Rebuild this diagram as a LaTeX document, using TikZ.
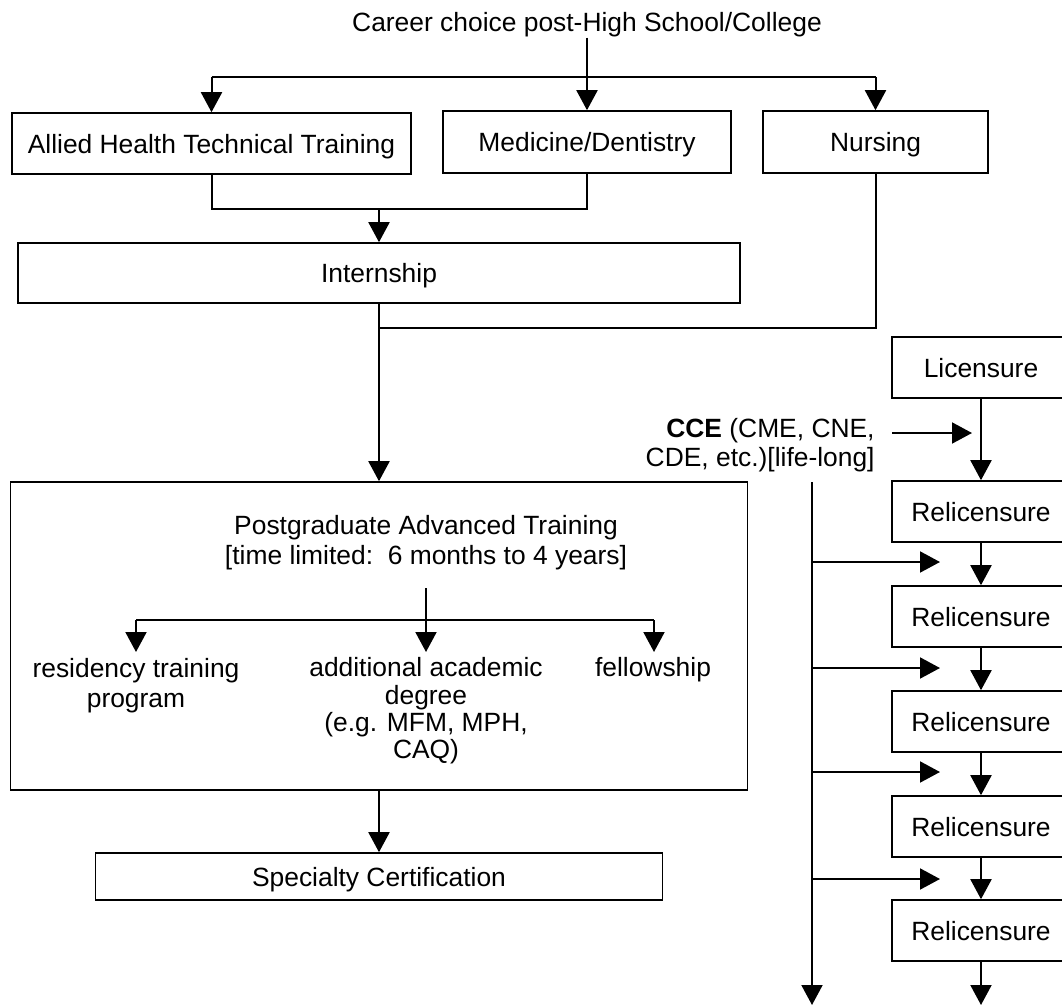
\documentclass[tikz,border=0pt]{standalone}
\usepackage{fontspec}
\setmainfont{Liberation Sans}
\usetikzlibrary{arrows.meta}
\newcommand\dtxt{\fontsize{13.2}{14.5}\selectfont}
\begin{document}
\begin{tikzpicture}[x=0.5pt,y=-0.5pt,
  box/.style={draw, line width=0.8pt, inner sep=0pt, align=center, font=\dtxt, text height=9.5pt, text depth=0pt},
  lbl/.style={inner sep=0pt, align=center, font=\dtxt},
  conn/.style={line width=1pt},
  arr/.style={conn, -{Triangle[length=10pt,width=10.5pt]}}]
\useasboundingbox (0,0) rectangle (1062,1007);
\clip (0,0) rectangle (1062,1007);

% top part
\node[lbl] (title) at (587,25) {Career choice post-High School/College};
\node[box, minimum width=199.5pt, minimum height=30.5pt] (allied) at (211.5,143.5) {Allied Health Technical Training};
\node[box, minimum width=144pt, minimum height=31pt] (medicine) at (587,142) {Medicine/Dentistry};
\node[box, minimum width=112.5pt, minimum height=31pt] (nursing) at (875.5,142) {Nursing};
\node[box, minimum width=361pt, minimum height=30pt] (internship) at (379,273) {Internship};
\node[box, minimum width=368.5pt, minimum height=154pt] (postgrad) at (379,636) {};
\node[box, minimum width=283.5pt, minimum height=23.5pt] (specialty) at (379,876.5) {Specialty Certification};

% postgrad contents
\node[lbl, font=\fontsize{13.2}{15}\selectfont] (pgt) at (426,543) {Postgraduate Advanced Training\\{[}time limited:\ \ 6 months to 4 years{]}};
\node[lbl, font=\fontsize{13.2}{15}\selectfont] (res) at (136,686) {residency training\\program};
\node[lbl, font=\fontsize{13.2}{13.7}\selectfont] (add) at (426,711) {additional academic\\degree\\(e.g. MFM, MPH,\\CAQ)};
\node[lbl] (fel) at (653,670) {fellowship};

% connectors top
\coordinate (split) at (587,77);
\draw[arr] (title.south) -- (medicine.north);
\draw[conn] (allied.north |- split) -- (nursing.north |- split);
\draw[arr] (allied.north |- split) -- (allied.north);
\draw[arr] (nursing.north |- split) -- (nursing.north);

\coordinate (merge) at (379,209);
\draw[conn] (allied.south) -- (allied.south |- merge) -- (medicine.south |- merge) -- (medicine.south);
\draw[arr] (merge) -- (internship.north);

\coordinate (join) at (379,328);
\draw[conn] (nursing.south) |- (join);
\draw[arr] (internship.south) -- (postgrad.north);

% inside postgrad
\coordinate (ps) at (426,588);
\coordinate (pj) at (426,620);
\coordinate (pl) at (136,620);
\coordinate (pr) at (654,620);
\coordinate (t1) at (136,652);
\coordinate (t2) at (426,652);
\coordinate (t3) at (654,652);
\draw[conn] (ps) -- (pj);
\draw[conn] (pl) -- (pr);
\draw[arr] (pl) -- (t1);
\draw[arr] (pj) -- (t2);
\draw[arr] (pr) -- (t3);

\draw[arr] (postgrad.south) -- (specialty.north);

% right column
\node[box, minimum width=89pt, minimum height=30.5pt] (lic) at (981,367.5) {Licensure};
\node[box, minimum width=89pt, minimum height=30.5pt] (r1) at (981,511.5) {Relicensure};
\node[box, minimum width=89pt, minimum height=30.5pt] (r2) at (981,616.5) {Relicensure};
\node[box, minimum width=89pt, minimum height=30.5pt] (r3) at (981,721.5) {Relicensure};
\node[box, minimum width=89pt, minimum height=30.5pt] (r4) at (981,826.5) {Relicensure};
\node[box, minimum width=89pt, minimum height=30.5pt] (r5) at (981,930.5) {Relicensure};
\coordinate (rend) at (981,1005);
\draw[arr] (lic.south) -- (r1.north);
\draw[arr] (r1.south) -- (r2.north);
\draw[arr] (r2.south) -- (r3.north);
\draw[arr] (r3.south) -- (r4.north);
\draw[arr] (r4.south) -- (r5.north);
\draw[arr] (r5.south) -- (rend);

\node[lbl, align=right, anchor=east] (cce) at (875,445) {\textbf{CCE} (CME, CNE,\\CDE, etc.)[life-long]};
\coordinate (cs) at (892,433);
\coordinate (ce) at (972,433);
\draw[arr] (cs) -- (ce);

\coordinate (ltop) at (812,482);
\coordinate (lbot) at (812,1005);
\draw[arr] (ltop) -- (lbot);
\foreach \yy [count=\i] in {562,668,772,879} {
  \coordinate (hs\i) at (812,\yy);
  \coordinate (he\i) at (940,\yy);
  \draw[arr] (hs\i) -- (he\i);
}
\end{tikzpicture}
\end{document}
